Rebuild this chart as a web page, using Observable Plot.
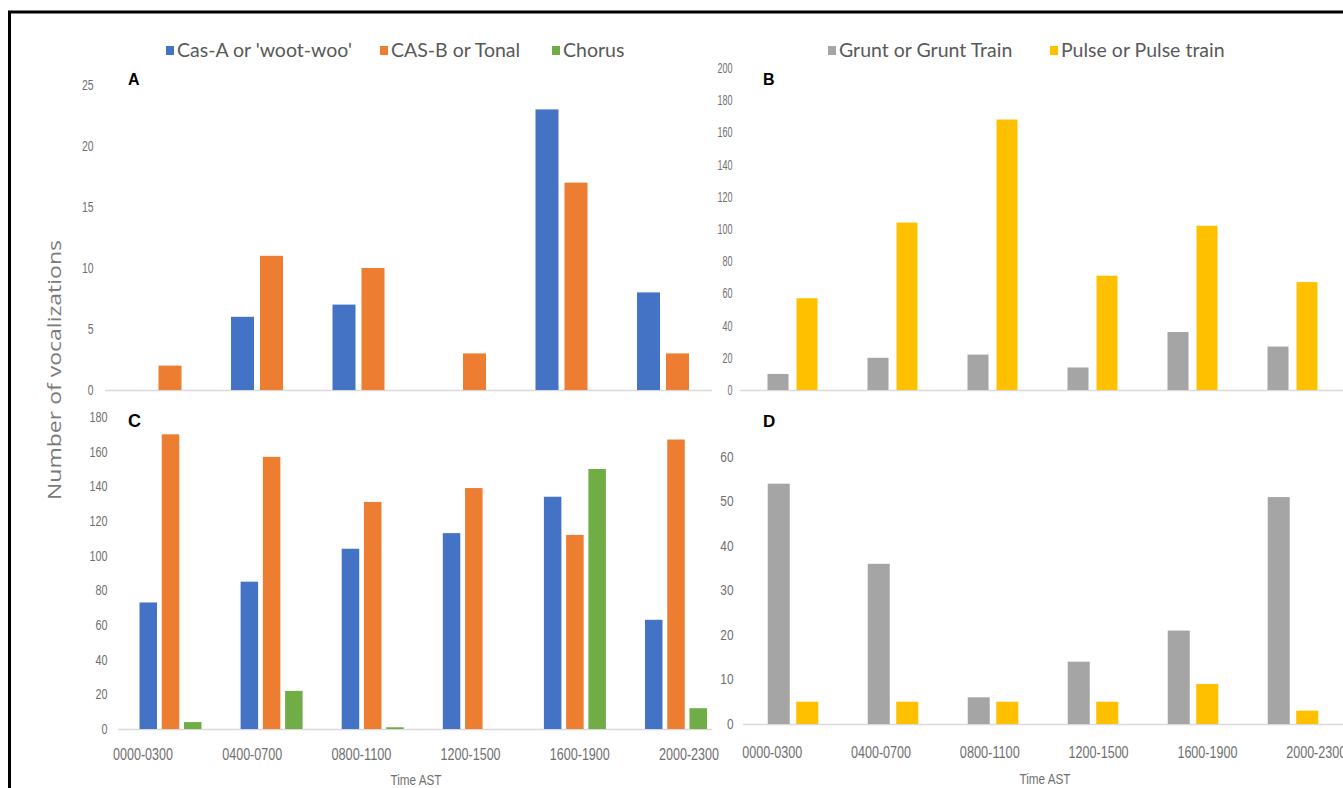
<!DOCTYPE html>
<html><head><meta charset="utf-8">
<script src="https://cdn.jsdelivr.net/npm/d3@7"></script>
<script src="https://cdn.jsdelivr.net/npm/@observablehq/plot@0.6"></script>
<style>
html,body{margin:0;padding:0;background:#fff;overflow:hidden}
#wrap{position:relative;width:1343px;height:788px;overflow:hidden;background:#fff}
#wrap svg{position:absolute;left:0;top:0}
</style></head><body><div id="wrap"></div>
<script>
// ---------- data ----------
const times = ["0000-0300","0400-0700","0800-1100","1200-1500","1600-1900","2000-2300"];
const seriesAC = ["Cas-A or 'woot-woo'", "CAS-B or Tonal", "Chorus"];
const seriesBD = ["Grunt or Grunt Train", "Pulse or Pulse train"];
const colorsAC = ["#4472C4", "#ED7D31", "#70AD47"];
const colorsBD = ["#A5A5A5", "#FFC000"];

const aCasA   = [0, 6, 7, 0, 23, 8];
const aCasB   = [2, 11, 10, 3, 17, 3];
const aChorus = [0, 0, 0, 0, 0, 0];
const bGrunt  = [10, 20, 22, 14, 36, 27];
const bPulse  = [57, 104, 168, 71, 102, 67];
const cCasA   = [73, 85, 104, 113, 134, 63];
const cCasB   = [170, 157, 131, 139, 112, 167];
const cChorus = [4, 22, 1, 0, 150, 12];
const dGrunt  = [54, 36, 6, 14, 21, 51];
const dPulse  = [5, 5, 5, 5, 9, 3];

const aTicks = [0, 5, 10, 15, 20, 25];
const bTicks = [0, 20, 40, 60, 80, 100, 120, 140, 160, 180, 200];
const cTicks = [0, 20, 40, 60, 80, 100, 120, 140, 160, 180];
const dTicks = [0, 10, 20, 30, 40, 50, 60];

const yTitle = "Number of vocalizations";
const xTitle = "Time AST";
const panelLetters = ["A", "B", "C", "D"];

// ---------- helpers ----------
const W = 1343, H = 788;
const wrap = document.getElementById("wrap");
const tickFont = "'Liberation Sans', Arial, sans-serif";
const tickColor = "#6f6f6f";

function rows(valueLists, series) {
  return times.flatMap((t, i) => series.map((s, j) => ({time: t, series: s, value: valueLists[j][i]})));
}

// squeeze text horizontally (the original uses a condensed face)
function condense(chart, perChar) {
  d3.select(chart).selectAll("text").each(function () {
    const t = this.textContent;
    this.setAttribute("textLength", t.length * perChar);
    this.setAttribute("lengthAdjust", "spacingAndGlyphs");
  });
}

function barPanel(o) {
  const n = o.series.length;
  const bandW = n * o.barW + (n - 1) * o.gap;
  const pInner = 1 - bandW / o.step;
  const start = o.center0 - o.step / 2;
  const data = rows(o.values, o.series);
  const bars = o.series.map((s, j) => Plot.barY(data.filter(d => d.series === s), {
    x: "time", y: "value", fill: o.colors[j],
    insetLeft: j * (o.barW + o.gap), insetRight: (n - 1 - j) * (o.barW + o.gap)
  }));
  const chart = Plot.plot({
    width: W, height: H,
    marginLeft: o.left, marginRight: W - o.right, marginTop: o.top, marginBottom: H - o.bottom,
    style: {background: "transparent", fontFamily: tickFont, fontSize: "14px", color: tickColor, overflow: "visible"},
    x: {type: "band", domain: times, range: [start, start + 6 * o.step], paddingInner: pInner, paddingOuter: pInner / 2, round: false, axis: null},
    y: {domain: o.yDomain, axis: null},
    marks: [
      Plot.ruleY([0], {stroke: "#d9d9d9", strokeWidth: 1.5}),
      ...bars,
      Plot.axisY(o.ticks, {tickSize: 0, tickPadding: o.tickPad, label: null})
    ]
  });
  condense(chart, o.perChar);
  wrap.appendChild(chart);
}

function labelAxis(o) {
  const chart = Plot.plot({
    width: W, height: H, marginLeft: 0, marginRight: 0, marginTop: 0, marginBottom: H - o.bottom,
    style: {background: "transparent", fontFamily: tickFont, fontSize: "17px", color: tickColor, overflow: "visible"},
    x: {type: "band", domain: times, range: o.range, padding: 0, round: false},
    marks: [Plot.axisX({tickSize: 0, tickPadding: o.tickPad, label: null})]
  });
  condense(chart, 60 / 9);
  wrap.appendChild(chart);
}

// ---------- panels ----------
barPanel({values: [aCasA, aCasB, aChorus], series: seriesAC, colors: colorsAC, yDomain: [0, 25], ticks: aTicks,
  left: 105, right: 712, top: 85, bottom: 390, center0: 170, step: 101.5, barW: 23, gap: 6, tickPad: 12, perChar: 5.8});
barPanel({values: [bGrunt, bPulse], series: seriesBD, colors: colorsBD, yDomain: [0, 200], ticks: bTicks,
  left: 740, right: W, top: 68, bottom: 390, center0: 792.5, step: 100, barW: 21, gap: 8, tickPad: 8, perChar: 5.0});
barPanel({values: [cCasA, cCasB, cChorus], series: seriesAC, colors: colorsAC, yDomain: [0, 180], ticks: cTicks,
  left: 118, right: 712, top: 417, bottom: 729, center0: 170.5, step: 101.1, barW: 17.5, gap: 4.75, tickPad: 11, perChar: 6.0});
barPanel({values: [dGrunt, dPulse], series: seriesBD, colors: colorsBD, yDomain: [0, 60], ticks: dTicks,
  left: 743, right: W, top: 457, bottom: 724, center0: 793, step: 100, barW: 22, gap: 6.5, tickPad: 10, perChar: 6.6});

labelAxis({range: [87.9, 743.1], bottom: 729, tickPad: 18});
labelAxis({range: [717.3, 1370.1], bottom: 724, tickPad: 21});

// ---------- decorations: frame, legends, titles ----------
const svg = d3.create("svg").attr("width", W).attr("height", H).style("overflow", "hidden");
svg.append("rect").attr("x", 9.5).attr("y", 12).attr("width", 3000).attr("height", 3000)
  .attr("fill", "none").attr("stroke", "#000").attr("stroke-width", 3);

function legend(items, colors, xs) {
  items.forEach((s, i) => {
    svg.append("rect").attr("x", xs[i]).attr("y", 46).attr("width", 8).attr("height", 9).attr("fill", colors[i]);
    svg.append("text").attr("x", xs[i] + 11).attr("y", 57)
      .attr("font-family", "Lato, 'Open Sans', sans-serif").attr("font-size", 19.5).attr("fill", "#595959").text(s);
  });
}
legend(seriesAC, colorsAC, [166, 380, 552]);
legend(seriesBD, colorsBD, [828, 1050]);

const letterPos = [[128, 85, 16], [763, 85, 16], [128, 427, 18], [763, 427, 17]];
panelLetters.forEach((l, i) => {
  svg.append("text").attr("x", letterPos[i][0]).attr("y", letterPos[i][1])
    .attr("font-family", "'Liberation Sans', Arial, sans-serif").attr("font-weight", "bold")
    .attr("font-size", letterPos[i][2]).attr("fill", "#000").text(l);
});

svg.append("text").attr("transform", "translate(54,370) rotate(-90)")
  .attr("text-anchor", "middle").attr("dominant-baseline", "central")
  .attr("font-family", "'Open Sans', sans-serif").attr("font-size", 19)
  .attr("textLength", 260).attr("lengthAdjust", "spacingAndGlyphs")
  .attr("fill", "#7a7a7a").text(yTitle);

[[416, 785], [1045, 784]].forEach(([x, y]) => {
  svg.append("text").attr("x", x).attr("y", y).attr("text-anchor", "middle")
    .attr("font-family", tickFont).attr("font-size", 14)
    .attr("textLength", 51).attr("lengthAdjust", "spacingAndGlyphs")
    .attr("fill", tickColor).text(xTitle);
});

wrap.appendChild(svg.node());
</script>
</body></html>
